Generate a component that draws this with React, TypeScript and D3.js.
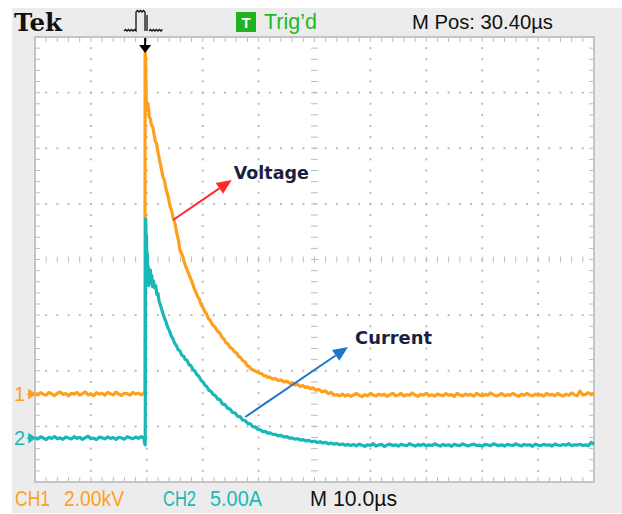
import React from 'react';
import * as d3 from 'd3';

// ---------- data ----------
// time axis: 10 µs/div, 10 divisions
const timeDomainUs: [number, number] = [0, 100];
const triggerTimeUs = 19.7;
// channel settings
const ch1KVPerDiv = 2.0;
const ch2APerDiv = 5.0;
const ch1GroundDiv = -2.42; // ground marker position in divisions from centre
const ch2GroundDiv = -3.21;

// CH1 voltage samples [time µs, kV]
const ch1Samples: [number, number][] = [
  [0, 0.03], [0.5, -0.03], [1, 0.05], [1.5, 0.0], [2, -0.04], [2.5, 0.06], [3, 0.01], [3.5, -0.05], [4, 0.03], [4.5, 0.08],
  [5, -0.01], [5.5, 0.02], [6, -0.06], [6.5, 0.03], [7, 0.0], [7.5, 0.06], [8, -0.04], [8.5, 0.02], [9, 0.08], [9.5, -0.03],
  [10, 0.01], [10.5, -0.05], [11, 0.05], [11.5, 0.0], [12, 0.03], [12.5, -0.04], [13, 0.06], [13.5, 0.01], [14, -0.03], [14.5, 0.07],
  [15, 0.0], [15.5, -0.05], [16, 0.03], [16.5, 0.02], [17, -0.04], [17.5, 0.06], [18, 0.0], [18.5, 0.04], [19, -0.03], [19.5, 0.05],
  [19.66, 0.02], [19.7, 12.3], [19.78, 12.1], [19.9, 10.6], [20.05, 10.2], [20.2, 10.45], [20.3, 10.3], [20.45, 9.95], [20.6, 9.92], [20.8, 9.7],
  [21.1, 9.58], [21.5, 9.1], [21.75, 9.0], [22.0, 8.7], [22.45, 8.25], [22.9, 7.8], [23.15, 7.7], [23.4, 7.4], [23.8, 7.12], [24.2, 6.72],
  [24.45, 6.6], [24.7, 6.35], [25.05, 6.12], [25.4, 5.75], [25.65, 5.55], [25.9, 5.2], [26.4, 4.97], [26.85, 4.65], [27.3, 4.42], [27.75, 4.2],
  [28.2, 3.97], [28.5, 3.78], [28.8, 3.66], [29.1, 3.5], [29.4, 3.42], [29.7, 3.22], [30.05, 3.12], [30.4, 2.96], [30.7, 2.88], [31.0, 2.72],
  [31.3, 2.66], [31.75, 2.5], [32.2, 2.41], [32.65, 2.26], [33.1, 2.19], [33.45, 2.04], [33.8, 1.98], [34.15, 1.85], [34.5, 1.81], [34.9, 1.68],
  [35.3, 1.63], [35.7, 1.52], [36.1, 1.47], [36.45, 1.35], [36.8, 1.31], [37.2, 1.2], [37.6, 1.15], [37.95, 1.02], [38.3, 0.99], [38.65, 0.9],
  [39.0, 0.87], [39.4, 0.83], [39.8, 0.79], [40.2, 0.75], [40.6, 0.73], [40.95, 0.66], [41.3, 0.66], [41.65, 0.6], [42.0, 0.61], [42.5, 0.55],
  [43.0, 0.56], [43.5, 0.49], [44.0, 0.51], [44.55, 0.44], [45.1, 0.46], [45.6, 0.38], [46.1, 0.41], [46.55, 0.33], [47.0, 0.35], [47.45, 0.27],
  [47.9, 0.31], [48.35, 0.24], [48.8, 0.26], [49.25, 0.19], [49.7, 0.23], [50.25, 0.14], [50.8, 0.17], [51.35, 0.08], [51.9, 0.12], [52.45, 0.02],
  [53.0, 0.06], [53.5, -0.04], [54.0, -0.02], [54.5, -0.06], [55, 0.0], [55.5, -0.07], [56, -0.02], [56.5, -0.08], [57, -0.03], [57.5, 0.02],
  [58, -0.04], [58.5, -0.09], [59, -0.02], [59.5, -0.06], [60, 0.02], [60.5, -0.03], [61, -0.07], [61.5, 0.0], [62, -0.04], [62.5, -0.01],
  [63, -0.08], [63.5, -0.02], [64, 0.03], [64.5, -0.06], [65, -0.03], [65.5, 0.02], [66, -0.07], [66.5, -0.02], [67, -0.04], [67.5, 0.04],
  [68, -0.03], [68.5, -0.08], [69, -0.01], [69.5, -0.04], [70, 0.03], [70.5, -0.06], [71, -0.02], [71.5, -0.07], [72, 0.0], [72.5, -0.03],
  [73, -0.06], [73.5, 0.02], [74, -0.04], [74.5, -0.02], [75, -0.08], [75.5, 0.03], [76, -0.03], [76.5, -0.06], [77, 0.0], [77.5, -0.04],
  [78, -0.01], [78.5, -0.07], [79, 0.03], [79.5, -0.03], [80, -0.06], [80.5, -0.01], [81, -0.04], [81.5, 0.04], [82, -0.02], [82.5, -0.07],
  [83, -0.03], [83.5, 0.02], [84, -0.06], [84.5, -0.02], [85, -0.04], [85.5, 0.03], [86, -0.03], [86.5, -0.08], [87, -0.01], [87.5, -0.04],
  [88, 0.02], [88.5, -0.03], [89, -0.06], [89.5, 0.0], [90, -0.04], [90.5, -0.02], [91, -0.07], [91.5, 0.03], [92, -0.03], [92.5, -0.01],
  [93, -0.06], [93.5, 0.02], [94, -0.03], [94.5, -0.07], [95, 0.0], [95.5, -0.04], [96, 0.04], [96.5, -0.02], [97, -0.06], [97.5, 0.11],
  [98, -0.03], [98.5, -0.01], [99, 0.05], [99.5, -0.02], [100, 0.03],
];

// CH2 current samples [time µs, A]
const ch2Samples: [number, number][] = [
  [0, 0.06], [0.5, -0.1], [1, 0.12], [1.5, 0.0], [2, -0.14], [2.5, 0.07], [3, -0.03], [3.5, 0.14], [4, -0.07], [4.5, 0.02],
  [5, -0.12], [5.5, 0.09], [6, 0.0], [6.5, -0.08], [7, 0.13], [7.5, -0.02], [8, 0.06], [8.5, -0.12], [9, 0.03], [9.5, 0.17],
  [10, -0.06], [10.5, 0.0], [11, -0.14], [11.5, 0.08], [12, 0.02], [12.5, -0.07], [13, 0.1], [13.5, -0.03], [14, 0.05], [14.5, -0.12],
  [15, 0.07], [15.5, 0.0], [16, -0.1], [16.5, 0.12], [17, 0.02], [17.5, -0.06], [18, 0.09], [18.5, -0.02], [19, 0.14], [19.5, -0.05],
  [19.62, -0.5], [19.72, -0.6], [19.8, 19.7], [19.88, 17.0], [19.95, 18.2], [20.02, 15.3], [20.1, 16.6], [20.18, 14.0], [20.27, 15.4], [20.36, 13.7],
  [20.45, 14.9], [20.55, 13.9], [20.65, 15.1], [20.78, 14.1], [20.9, 14.6], [21.05, 13.6], [21.2, 14.1], [21.4, 13.5], [21.6, 13.7], [21.8, 12.9],
  [22.0, 13.0], [22.2, 12.3], [22.4, 12.0], [22.65, 11.6], [22.9, 11.2], [23.15, 10.8], [23.4, 10.5], [23.7, 10.0], [24.0, 9.7], [24.35, 9.2],
  [24.7, 8.9], [25.0, 8.5], [25.3, 8.3], [25.6, 7.95], [25.9, 7.85], [26.25, 7.45], [26.6, 7.35], [26.9, 7.05], [27.2, 6.98], [27.55, 6.6],
  [27.9, 6.5], [28.25, 6.15], [28.6, 6.02], [28.95, 5.7], [29.3, 5.55], [29.7, 5.2], [30.05, 5.05], [30.4, 4.75], [30.7, 4.65], [31.1, 4.3],
  [31.5, 4.2], [31.9, 3.9], [32.3, 3.8], [32.7, 3.5], [33.1, 3.45], [33.55, 3.05], [34.0, 3.0], [34.45, 2.68], [34.9, 2.6], [35.35, 2.3],
  [35.8, 2.25], [36.25, 1.95], [36.7, 1.92], [37.15, 1.62], [37.6, 1.58], [38.05, 1.32], [38.5, 1.28], [38.95, 1.02], [39.4, 1.0], [39.85, 0.78],
  [40.3, 0.75], [40.75, 0.58], [41.2, 0.6], [41.65, 0.44], [42.1, 0.46], [42.55, 0.32], [43.0, 0.34], [43.5, 0.2], [44.0, 0.24], [44.5, 0.1],
  [45.1, 0.12], [45.5, 0.0], [46.0, 0.02], [46.5, -0.1], [47.0, -0.06], [47.5, -0.18], [48.0, -0.14], [48.5, -0.26], [49.0, -0.21], [49.5, -0.33],
  [50.0, -0.27], [50.5, -0.4], [51.0, -0.33], [51.5, -0.45], [52.0, -0.39], [52.5, -0.52], [53.0, -0.45], [53.5, -0.55], [54.0, -0.49], [54.5, -0.6],
  [55.0, -0.53], [55.5, -0.64], [56.0, -0.57], [56.5, -0.66], [57.0, -0.58], [57.5, -0.7], [58, -0.54], [58.5, -0.65], [59, -0.74], [59.5, -0.6],
  [60, -0.67], [60.5, -0.5], [61, -0.72], [61.5, -0.62], [62, -0.57], [62.5, -0.76], [63, -0.63], [63.5, -0.54], [64, -0.68], [64.5, -0.6],
  [65, -0.73], [65.5, -0.56], [66, -0.64], [66.5, -0.69], [67, -0.51], [67.5, -0.62], [68, -0.72], [68.5, -0.59], [69, -0.66], [69.5, -0.55],
  [70, -0.7], [70.5, -0.61], [71, -0.67], [71.5, -0.52], [72, -0.63], [72.5, -0.72], [73, -0.57], [73.5, -0.66], [74, -0.6], [74.5, -0.74],
  [75, -0.56], [75.5, -0.64], [76, -0.68], [76.5, -0.53], [77, -0.62], [77.5, -0.71], [78, -0.6], [78.5, -0.55], [79, -0.67], [79.5, -0.63],
  [80, -0.73], [80.5, -0.57], [81, -0.62], [81.5, -0.69], [82, -0.52], [82.5, -0.61], [83, -0.68], [83.5, -0.6], [84, -0.72], [84.5, -0.56],
  [85, -0.63], [85.5, -0.67], [86, -0.53], [86.5, -0.62], [87, -0.71], [87.5, -0.58], [88, -0.64], [88.5, -0.6], [89, -0.74], [89.5, -0.55],
  [90, -0.63], [90.5, -0.68], [91, -0.57], [91.5, -0.65], [92, -0.6], [92.5, -0.72], [93, -0.54], [93.5, -0.62], [94, -0.67], [94.5, -0.58],
  [95, -0.64], [95.5, -0.51], [96, -0.69], [96.5, -0.6], [97, -0.63], [97.5, -0.56], [98, -0.67], [98.5, -0.61], [99, -0.7], [99.5, -0.38],
  [100, -0.58],
];

// annotations: start on the trace, tip in data coordinates
const voltageArrow = { t0: 24.7, v0: 6.26, t1: 35.2, v1: 7.7, label: 'Voltage' };
const currentArrow = { t0: 37.6, v0: 1.89, t1: 56.0, v1: 8.18, label: 'Current' };

// header / footer labels
const headerBrand = 'Tek';
const headerTrigState = 'Trig\u2019d';
const headerMPos = 'M Pos: 30.40\u00B5s';
const footerCh1 = ['CH1', '2.00kV'];
const footerCh2 = ['CH2', '5.00A'];
const footerTime = ['M', '10.0\u00B5s'];

// ---------- styling ----------
const W = 622;
const H = 514;
const P = { left: 35, right: 594, top: 37, bottom: 482 };
const ORANGE = '#ffa01c';
const TEAL = '#18b8b8';
const GRID = '#bcbcbc';
const SANS = '"Liberation Sans", Arial, sans-serif';

export default function App() {
  const x = d3.scaleLinear().domain(timeDomainUs).range([P.left, P.right]);
  const yDiv = d3.scaleLinear().domain([-4, 4]).range([P.bottom, P.top]);
  const y1 = d3
    .scaleLinear()
    .domain([(-4 - ch1GroundDiv) * ch1KVPerDiv, (4 - ch1GroundDiv) * ch1KVPerDiv])
    .range([P.bottom, P.top]);
  const y2 = d3
    .scaleLinear()
    .domain([(-4 - ch2GroundDiv) * ch2APerDiv, (4 - ch2GroundDiv) * ch2APerDiv])
    .range([P.bottom, P.top]);

  const line1 = d3.line<[number, number]>().x((d) => x(d[0])).y((d) => y1(d[1]));
  const line2 = d3.line<[number, number]>().x((d) => x(d[0])).y((d) => y2(d[1]));

  const majorT = d3.range(10, 100, 10);
  const minorT = d3.range(0, 100.001, 2);
  const majorD = d3.range(-3, 4, 1);
  const minorD = d3.range(-4, 4.001, 0.2);

  const dots: JSX.Element[] = [];
  majorT.forEach((t) => {
    if (t === 50) return;
    minorD.forEach((d, i) => {
      if (i === 0 || i === minorD.length - 1) return;
      dots.push(<rect key={`v${t}-${i}`} x={x(t) - 1} y={yDiv(d) - 1} width={2} height={2} fill={GRID} />);
    });
  });
  majorD.forEach((d) => {
    if (d === 0) return;
    minorT.forEach((t, i) => {
      if (i === 0 || i === minorT.length - 1) return;
      dots.push(<rect key={`h${d}-${i}`} x={x(t) - 1} y={yDiv(d) - 1} width={2} height={2} fill={GRID} />);
    });
  });

  const ticks: JSX.Element[] = [];
  minorT.forEach((t, i) => {
    if (i === 0 || i === minorT.length - 1) return;
    const xx = x(t);
    ticks.push(<line key={`tt${i}`} x1={xx} x2={xx} y1={P.top} y2={P.top + 5} />);
    ticks.push(<line key={`tb${i}`} x1={xx} x2={xx} y1={P.bottom} y2={P.bottom - 5} />);
    ticks.push(<line key={`tc${i}`} x1={xx} x2={xx} y1={yDiv(0) - 3} y2={yDiv(0) + 3} />);
  });
  minorD.forEach((d, i) => {
    if (i === 0 || i === minorD.length - 1) return;
    const yy = yDiv(d);
    ticks.push(<line key={`tl${i}`} x1={P.left} x2={P.left + 5} y1={yy} y2={yy} />);
    ticks.push(<line key={`tr${i}`} x1={P.right} x2={P.right - 5} y1={yy} y2={yy} />);
    ticks.push(<line key={`tm${i}`} x1={x(50) - 3.5} x2={x(50) + 3.5} y1={yy} y2={yy} />);
  });

  const arrow = (
    a: { t0: number; v0: number; t1: number; v1: number },
    ys: d3.ScaleLinear<number, number>,
    color: string,
  ) => {
    const x0 = x(a.t0), yy0 = ys(a.v0), x1 = x(a.t1), yy1 = ys(a.v1);
    const ang = Math.atan2(yy1 - yy0, x1 - x0);
    const len = 15, half = 6.5;
    const bx = x1 - len * Math.cos(ang), by = yy1 - len * Math.sin(ang);
    const nx = -Math.sin(ang), ny = Math.cos(ang);
    return (
      <g>
        <line x1={x0} y1={yy0} x2={bx} y2={by} stroke={color} strokeWidth={2} />
        <path
          d={`M${x1},${yy1}L${bx + nx * half},${by + ny * half}L${bx - nx * half},${by - ny * half}Z`}
          fill={color}
        />
      </g>
    );
  };

  const trigX = x(triggerTimeUs);
  const g1 = yDiv(ch1GroundDiv);
  const g2 = yDiv(ch2GroundDiv);

  const pulsePath =
    'M124,31 l1.5,-1.5 l1.5,1.5 l1.5,-1.5 l1.5,1.5 l1.5,-1.5 l1.5,1.5 l1.5,-1.5 l1.5,1.5 L136,12 ' +
    'l1.5,-1.5 l1.5,1.5 l1.5,-1.5 l1.5,1.5 l1.5,-1.5 l1.5,1.5 L145,31 M147,31 L147,15 M149,31 ' +
    'l1.5,-1.5 l1.5,1.5 l1.5,-1.5 l1.5,1.5 l1.5,-1.5 l1.5,1.5 l1.5,-1.5 l1.5,1.5 l1.5,-1.5';

  return (
    <svg width={W} height={H} style={{ position: 'absolute', left: 0, top: 0 }} xmlns="http://www.w3.org/2000/svg">
      <rect x={0} y={0} width={W} height={H} fill="#ffffff" />
      <rect x={12} y={8} width={W - 12} height={505} fill="#ececec" />
      <rect x={P.left} y={P.top} width={P.right - P.left} height={P.bottom - P.top} fill="#ffffff" />
      {dots}
      <g stroke={GRID} strokeWidth={1}>{ticks}</g>
      <rect
        x={P.left}
        y={P.top}
        width={P.right - P.left}
        height={P.bottom - P.top}
        fill="none"
        stroke="#c4c4c4"
        strokeWidth={2}
      />

      {/* traces */}
      <path d={line1(ch1Samples) || ''} fill="none" stroke={ORANGE} strokeWidth={3.2} strokeLinejoin="round" />
      <path d={line2(ch2Samples) || ''} fill="none" stroke={TEAL} strokeWidth={3.2} strokeLinejoin="round" />

      {/* annotations */}
      {arrow(voltageArrow, y1, '#ff2a2a')}
      {arrow(currentArrow, y2, '#1f74cc')}
      <text
        x={x(voltageArrow.t1) + 2}
        y={y1(voltageArrow.v1) - 1}
        fontFamily='"DejaVu Sans", sans-serif'
        fontWeight="bold"
        fontSize={17}
        fill="#1b1f3d"
        textLength={75}
        lengthAdjust="spacingAndGlyphs"
      >
        {voltageArrow.label}
      </text>
      <text
        x={x(currentArrow.t1) + 7}
        y={y2(currentArrow.v1) - 3}
        fontFamily='"DejaVu Sans", sans-serif'
        fontWeight="bold"
        fontSize={17}
        fill="#1b1f3d"
        textLength={77}
        lengthAdjust="spacingAndGlyphs"
      >
        {currentArrow.label}
      </text>

      {/* trigger marker */}
      <line x1={trigX} x2={trigX} y1={38} y2={46} stroke="#000" strokeWidth={2} />
      <path d={`M${trigX - 6},${45}L${trigX + 6},${45}L${trigX},${53}Z`} fill="#000" />

      {/* channel ground markers */}
      <text x={14} y={g1 + 7} fontFamily={SANS} fontSize={20} fill={ORANGE}>1</text>
      <path d={`M27,${g1}L31,${g1}M29,${g1 - 4}L35,${g1}L29,${g1 + 4}Z`} stroke={ORANGE} strokeWidth={1.5} fill={ORANGE} />
      <text x={14} y={g2 + 7} fontFamily={SANS} fontSize={20} fill={TEAL}>2</text>
      <path d={`M27,${g2}L31,${g2}M29,${g2 - 4}L35,${g2}L29,${g2 + 4}Z`} stroke={TEAL} strokeWidth={1.5} fill={TEAL} />

      {/* header */}
      <text
        x={14}
        y={31}
        fontFamily='"DejaVu Serif", "Liberation Serif", serif'
        fontWeight="bold"
        fontSize={25}
        fill="#111"
        textLength={48}
        lengthAdjust="spacingAndGlyphs"
      >
        {headerBrand}
      </text>
      <path d={pulsePath} fill="none" stroke="#111" strokeWidth={1.3} />
      <rect x={236} y={12} width={20} height={20} fill="#1fb41f" />
      <text x={246} y={28} textAnchor="middle" fontFamily={SANS} fontWeight="bold" fontSize={15} fill="#fff">T</text>
      <text x={264} y={29} fontFamily={SANS} fontSize={22} fill="#22bb22" textLength={53} lengthAdjust="spacingAndGlyphs">
        {headerTrigState}
      </text>
      <text x={412} y={29} fontFamily={SANS} fontSize={21} fill="#111" textLength={141} lengthAdjust="spacingAndGlyphs">
        {headerMPos}
      </text>

      {/* footer */}
      <text x={15} y={506} fontFamily={SANS} fontSize={22} fill={ORANGE} textLength={35} lengthAdjust="spacingAndGlyphs">{footerCh1[0]}</text>
      <text x={64} y={506} fontFamily={SANS} fontSize={22} fill={ORANGE} textLength={60} lengthAdjust="spacingAndGlyphs">{footerCh1[1]}</text>
      <text x={163} y={506} fontFamily={SANS} fontSize={22} fill={TEAL} textLength={33} lengthAdjust="spacingAndGlyphs">{footerCh2[0]}</text>
      <text x={210} y={506} fontFamily={SANS} fontSize={22} fill={TEAL} textLength={52} lengthAdjust="spacingAndGlyphs">{footerCh2[1]}</text>
      <text x={310} y={506} fontFamily={SANS} fontSize={22} fill="#111" textLength={17} lengthAdjust="spacingAndGlyphs">{footerTime[0]}</text>
      <text x={333} y={506} fontFamily={SANS} fontSize={22} fill="#111" textLength={64} lengthAdjust="spacingAndGlyphs">{footerTime[1]}</text>
    </svg>
  );
}
